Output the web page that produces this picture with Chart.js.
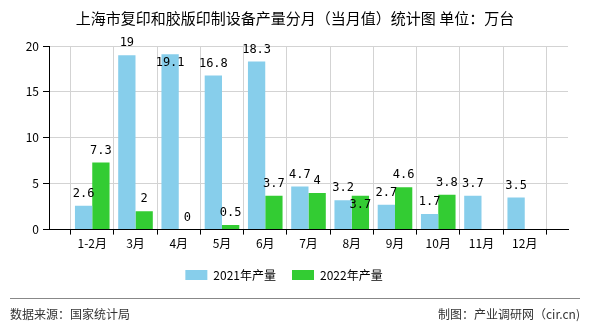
<!DOCTYPE html>
<html>
<head>
<meta charset="utf-8">
<script src="https://cdn.jsdelivr.net/npm/chart.js@4/dist/chart.umd.min.js"></script>
<style>
    html, body { margin: 0; padding: 0; background: #fff; }
    #wrap { width: 590px; height: 330px; position: relative; }
</style>
</head>
<body>
<div id="wrap"><canvas id="chart" width="590" height="330"></canvas></div>
<script>
(function () {
    'use strict';

    var TITLE = '上海市复印和胶版印制设备产量分月（当月值）统计图 单位：万台';
    var SOURCE = '数据来源：国家统计局';
    var CREDIT = '制图：产业调研网（cir.cn)';

    var months = ['1-2月', '3月', '4月', '5月', '6月', '7月', '8月', '9月', '10月', '11月', '12月'];
    var output2021 = [2.6, 19, 19.1, 16.8, 18.3, 4.7, 3.2, 2.7, 1.7, 3.7, 3.5];
    var output2022 = [7.3, 2, 0, 0.5, 3.7, 4, 3.7, 4.6, 3.8, null, null];
    var yTicks = [0, 5, 10, 15, 20];

    var CJK = '"Noto Sans CJK SC", "Noto Sans", sans-serif';
    var MONO = '"DejaVu Sans Mono", "Liberation Mono", monospace';

    // the axis keeps an empty slot at each end, so pad the labels
    function pad(arr) { return [null].concat(arr, [null]); }

    var titleAndFooter = {
        id: 'titleAndFooter',
        afterDraw: function (chart) {
            var ctx = chart.ctx;
            ctx.save();
            ctx.fillStyle = '#000';
            ctx.font = '15px ' + CJK;
            ctx.textAlign = 'center';
            ctx.textBaseline = 'middle';
            ctx.fillText(TITLE, 295, 18);

            ctx.strokeStyle = '#888';
            ctx.lineWidth = 1;
            ctx.beginPath();
            ctx.moveTo(10, 298.5);
            ctx.lineTo(580, 298.5);
            ctx.stroke();

            ctx.fillStyle = '#333';
            ctx.font = '12px ' + CJK;
            ctx.textAlign = 'left';
            ctx.fillText(SOURCE, 10, 314);
            ctx.textAlign = 'right';
            ctx.fillText(CREDIT, 580, 314);
            ctx.restore();
        }
    };

    var barValues = {
        id: 'barValues',
        afterDatasetsDraw: function (chart) {
            var ctx = chart.ctx;
            var area = chart.chartArea;
            var placed = [];
            ctx.save();
            ctx.font = '12px ' + MONO;
            ctx.fillStyle = '#000';
            ctx.textAlign = 'center';
            ctx.textBaseline = 'middle';
            var n = chart.data.labels.length;
            for (var i = 0; i < n; i++) {
                chart.data.datasets.forEach(function (ds, d) {
                    var v = ds.data[i];
                    if (v === null || v === undefined) return;
                    var bar = chart.getDatasetMeta(d).data[i];
                    var text = String(v);
                    var w = ctx.measureText(text).width;
                    var y = bar.y - 12;
                    var box = { l: bar.x - w / 2, r: bar.x + w / 2, t: y - 6, b: y + 6 };
                    var hit = placed.some(function (p) {
                        return box.l < p.r && box.r > p.l && box.t < p.b && box.b > p.t;
                    });
                    if (hit || y < area.top - 3) {
                        y = bar.y + 9;
                        box.t = y - 6; box.b = y + 6;
                    }
                    placed.push(box);
                    ctx.fillText(text, bar.x, y);
                });
            }
            ctx.restore();
        }
    };

    new Chart(document.getElementById('chart'), {
        type: 'bar',
        data: {
            labels: pad(months),
            datasets: [{
                label: '2021年产量',
                data: pad(output2021),
                backgroundColor: '#87CEEB',
                categoryPercentage: 0.8,
                barPercentage: 1
            }, {
                label: '2022年产量',
                data: pad(output2022),
                backgroundColor: '#33CC33',
                categoryPercentage: 0.8,
                barPercentage: 1
            }]
        },
        options: {
            responsive: false,
            animation: false,
            layout: { padding: { top: 46, right: 22, left: 0, bottom: 39 } },
            plugins: {
                title: { display: false },
                tooltip: { enabled: false },
                legend: {
                    position: 'bottom',
                    labels: {
                        boxWidth: 22,
                        boxHeight: 10,
                        padding: 16,
                        color: '#000',
                        font: { size: 12, family: CJK }
                    }
                }
            },
            scales: {
                x: {
                    offset: false,
                    grid: { color: '#d3d3d3', tickColor: '#000', tickLength: 5 },
                    border: { color: '#000' },
                    ticks: {
                        color: '#000',
                        autoSkip: false,
                        maxRotation: 0,
                        padding: 2,
                        font: { size: 12, family: CJK },
                        callback: function (v, i) { return this.getLabelForValue(v) || ''; }
                    }
                },
                y: {
                    min: 0,
                    max: 20,
                    afterFit: function (s) { s.width = 49; },
                    afterBuildTicks: function (s) { s.ticks = yTicks.map(function (v) { return { value: v }; }); },
                    grid: { color: '#d3d3d3', tickColor: '#000', tickLength: 6 },
                    border: { color: '#000' },
                    ticks: {
                        color: '#000',
                        padding: 4,
                        font: { size: 12, family: CJK }
                    }
                }
            }
        },
        plugins: [titleAndFooter, barValues]
    });
})();
</script>
</body>
</html>
